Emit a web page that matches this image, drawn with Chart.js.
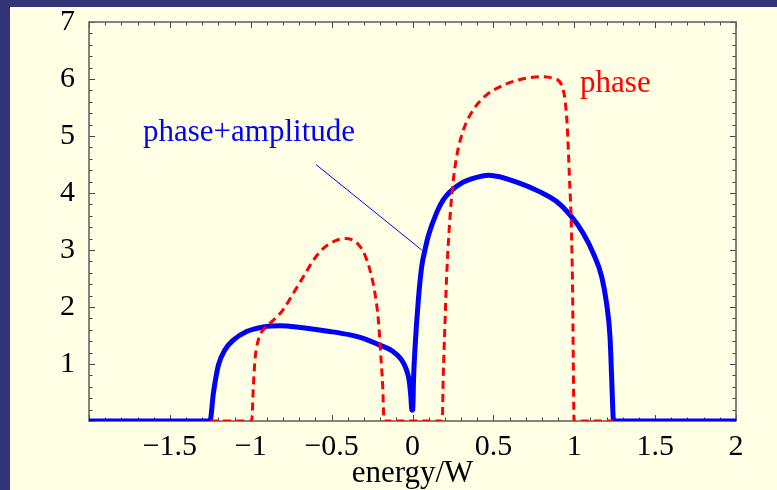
<!DOCTYPE html>
<html>
<head>
<meta charset="utf-8">
<script src="https://cdn.jsdelivr.net/npm/chart.js@4"></script>
<style>
html,body{margin:0;padding:0;background:#333378;}
#wrap{width:777px;height:490px;position:relative;}
</style>
</head>
<body>
<div id="wrap"><canvas id="c" width="777" height="490"></canvas></div>
<script>
// ---- data ----
const blueX = [-2, -1.252, -1.231, -1.2, -1.159, -1.108, -1.025, -0.922, -0.819, -0.716, -0.51, -0.386, -0.304, -0.2, -0.12, -0.07, -0.04, -0.02, -0.01, -0.004, 0.002, 0.006, 0.015, 0.036, 0.057, 0.077, 0.098, 0.15, 0.19, 0.232, 0.3, 0.38, 0.47, 0.665, 0.788, 0.891, 0.984, 1.056, 1.118, 1.17, 1.2, 1.221, 1.231, 1.241, 1.245, 2];
const blueY = [0, 0, 0.49, 0.98, 1.25, 1.42, 1.57, 1.65, 1.67, 1.65, 1.57, 1.51, 1.45, 1.33, 1.22, 1.08, 0.92, 0.7, 0.42, 0.19, 0.2, 0.7, 1.25, 2.12, 2.71, 3.0, 3.25, 3.66, 3.88, 4.02, 4.17, 4.26, 4.31, 4.17, 4.02, 3.85, 3.58, 3.29, 2.94, 2.53, 2.06, 1.48, 0.78, 0.05, 0, 0];

const redX = [-1.25, -0.994, -0.984, -0.974, -0.963, -0.943, -0.912, -0.86, -0.80, -0.737, -0.675, -0.613, -0.551, -0.479, -0.417, -0.355, -0.304, -0.263, -0.232, -0.211, -0.197, -0.184, -0.176, 0.184, 0.19, 0.2, 0.211, 0.228, 0.248, 0.273, 0.314, 0.376, 0.458, 0.562, 0.665, 0.788, 0.871, 0.922, 0.943, 0.957, 0.97, 0.982, 0.99, 0.994, 0.998, 1.0, 1.24];
const redY = [0, 0, 0.6, 1.07, 1.30, 1.51, 1.63, 1.77, 1.95, 2.24, 2.53, 2.82, 3.03, 3.16, 3.2, 3.15, 2.97, 2.65, 2.24, 1.77, 1.19, 0.6, 0, 0, 0.78, 1.65, 2.53, 3.41, 4.11, 4.64, 5.1, 5.46, 5.72, 5.89, 5.99, 6.04, 6.01, 5.89, 5.63, 5.16, 4.29, 3.41, 2.24, 1.07, 0.08, 0, 0];

const leaderX = [-0.597, 0.057];
const leaderY = [4.50, 3.0];

const xTickValues = [-1.5, -1, -0.5, 0, 0.5, 1, 1.5, 2];
const xTickLabels = ['\u22121.5', '\u22121', '\u22120.5', '0', '0.5', '1', '1.5', '2'];
const yTickValues = [1, 2, 3, 4, 5, 6, 7];
const yTickLabels = ['1', '2', '3', '4', '5', '6', '7'];

const labelBlue = 'phase+amplitude';
const labelRed = 'phase';
const xTitle = 'energy/W';

// ---- helpers ----
const zip = (xs, ys) => xs.map((x, i) => ({x: x, y: ys[i]}));
const SERIF = '"Liberation Serif", "DejaVu Serif", serif';

const bgPlugin = {
  id: 'bg',
  beforeDraw(chart) {
    const ctx = chart.ctx;
    ctx.save();
    ctx.fillStyle = '#333378';
    ctx.fillRect(0, 0, chart.width, chart.height);
    ctx.fillStyle = '#ffffe6';
    ctx.fillRect(10, 7, chart.width - 10, chart.height - 7);
    ctx.restore();
  }
};

const framePlugin = {
  id: 'frame',
  beforeDatasetsDraw(chart) {
    const ctx = chart.ctx;
    const a = chart.chartArea;
    const xs = chart.scales.x, ys = chart.scales.y;
    ctx.save();
    ctx.strokeStyle = '#444';
    ctx.lineWidth = 1;
    for (let i = -20; i <= 20; i++) {
      const v = i / 10;
      const px = Math.round(xs.getPixelForValue(v)) + 0.5;
      const len = (i % 5 === 0) ? 6 : 3.5;
      ctx.beginPath();
      ctx.moveTo(px, a.bottom); ctx.lineTo(px, a.bottom - len);
      ctx.moveTo(px, a.top); ctx.lineTo(px, a.top + len);
      ctx.stroke();
    }
    for (let i = 0; i <= 35; i++) {
      const v = i / 5;
      const py = Math.round(ys.getPixelForValue(v)) + 0.5;
      const len = (i % 5 === 0) ? 6 : 3.5;
      ctx.beginPath();
      ctx.moveTo(a.left, py); ctx.lineTo(a.left + len, py);
      ctx.moveTo(a.right, py); ctx.lineTo(a.right - len, py);
      ctx.stroke();
    }
    ctx.strokeStyle = '#666';
    ctx.lineWidth = 1.6;
    ctx.strokeRect(a.left, a.top, a.right - a.left, a.bottom - a.top);
    ctx.restore();
  },
  afterDraw(chart) {
    const ctx = chart.ctx;
    const xs = chart.scales.x, ys = chart.scales.y;
    ctx.save();
    ctx.font = '31px ' + SERIF;
    ctx.textBaseline = 'alphabetic';
    ctx.textAlign = 'left';
    ctx.fillStyle = '#0000ff';
    ctx.fillText(labelBlue, xs.getPixelForValue(-1.666), ys.getPixelForValue(4.92));
    ctx.fillStyle = '#ff0000';
    ctx.fillText(labelRed, xs.getPixelForValue(1.036), ys.getPixelForValue(5.77));
    ctx.restore();
  }
};

new Chart(document.getElementById('c'), {
  type: 'line',
  data: {
    datasets: [
      {
        label: labelRed,
        data: zip(redX, redY),
        borderColor: '#ff0000',
        borderWidth: 3,
        borderDash: [8, 5],
        pointRadius: 0,
        fill: false,
        cubicInterpolationMode: 'monotone',
        order: 0
      },
      {
        label: labelBlue,
        data: zip(blueX, blueY),
        borderColor: '#0000ff',
        borderWidth: 5,
        borderCapStyle: 'round',
        borderJoinStyle: 'round',
        pointRadius: 0,
        fill: false,
        cubicInterpolationMode: 'monotone',
        order: 1
      },
      {
        label: 'leader',
        data: zip(leaderX, leaderY),
        borderColor: '#0000ff',
        borderWidth: 1,
        pointRadius: 0,
        tension: 0,
        fill: false,
        order: 2
      }
    ]
  },
  options: {
    responsive: false,
    animation: false,
    devicePixelRatio: 1,
    layout: {padding: {top: 22, right: 41, left: 0, bottom: 0}},
    plugins: {legend: {display: false}, tooltip: {enabled: false}},
    scales: {
      x: {
        type: 'linear',
        min: -2, max: 2,
        afterFit(s) { s.height = 69; s.paddingLeft = 0; s.paddingRight = 0; },
        afterBuildTicks(s) { s.ticks = xTickValues.map(v => ({value: v})); },
        grid: {display: false, drawTicks: false},
        border: {display: false},
        ticks: {
          padding: 8,
          color: '#000',
          font: {family: SERIF, size: 30},
          maxRotation: 0,
          autoSkip: false,
          callback(v) { const i = xTickValues.indexOf(v); return i >= 0 ? xTickLabels[i] : ''; }
        },
        title: {
          display: true,
          text: xTitle,
          color: '#000',
          font: {family: SERIF, size: 31, lineHeight: 1},
          padding: {top: 0, bottom: 1}
        }
      },
      y: {
        type: 'linear',
        min: 0, max: 7,
        afterFit(s) { s.width = 89; s.paddingTop = 0; s.paddingBottom = 0; },
        afterBuildTicks(s) { s.ticks = yTickValues.map(v => ({value: v})); },
        grid: {display: false, drawTicks: false},
        border: {display: false},
        ticks: {
          padding: 14,
          color: '#000',
          font: {family: SERIF, size: 30},
          autoSkip: false,
          callback(v) { const i = yTickValues.indexOf(v); return i >= 0 ? yTickLabels[i] : ''; }
        }
      }
    }
  },
  plugins: [bgPlugin, framePlugin]
});
</script>
</body>
</html>
